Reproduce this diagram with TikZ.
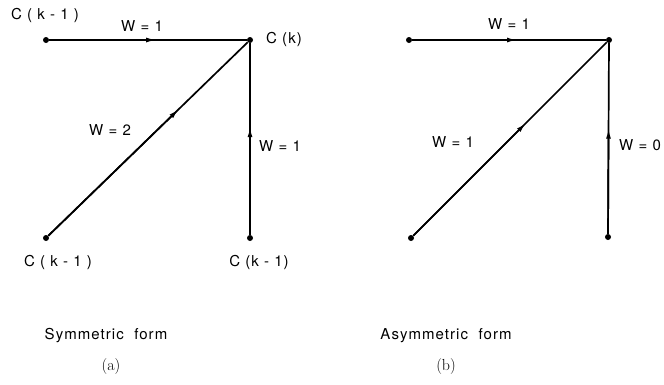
\documentclass[tikz,border=0pt]{standalone}
\usepackage{fontspec}
\setsansfont{TeX Gyre Heros}[LetterSpace=7]
\usetikzlibrary{calc,arrows.meta}
\begin{document}
\begin{tikzpicture}[x=1pt,y=-1pt,
  dot/.style={circle,fill=black,inner sep=0pt,minimum size=6pt},
  lbl/.style={font=\sffamily\fontsize{15}{17}\selectfont,inner sep=0pt},
  captxt/.style={font=\sffamily\fontsize{15}{17}\selectfont,inner sep=0pt},
  subtxt/.style={font=\rmfamily\fontsize{16}{18}\selectfont,inner sep=0pt},
  edge/.style={line width=1.7pt},
  tip/.style={line width=1.7pt,-{Latex[length=10pt,width=5pt]}}]
\useasboundingbox (0,0) rectangle (664,384);
% (a)
\node[dot] (a1) at (46,40) {};
\node[dot] (ak) at (250,40) {};
\node[dot] (a2) at (46,238) {};
\node[dot] (a3) at (250,238) {};
\draw[edge] (a1) -- (ak);
\draw[edge] (a2) -- (ak);
\draw[edge] (a3) -- (ak);
\draw[tip] (a1) -- ($(a1)!0.54!(ak)$);
\draw[tip] (a2) -- ($(a2)!0.65!(ak)$);
\draw[tip] (a3) -- ($(a3)!0.56!(ak)$);
\node[lbl] (ta1) at (45,15) {C ( k - 1 )};
\node[lbl] (tw1) at (142,26) {W = 1};
\node[lbl] (tk) at (284,39) {C (k)};
\node[lbl] (tw2) at (110,130) {W = 2};
\node[lbl] (tw3) at (280,146) {W = 1};
\node[lbl] (ta2) at (58,262) {C ( k - 1 )};
\node[lbl] (ta3) at (259,262) {C (k - 1)};
\node[captxt] (ca) at (106,336) {Symmetric\ \ form};
\node[subtxt] (la) at (111,366) {(a)};
% (b)
\node[dot] (b1) at (409,40) {};
\node[dot] (bk) at (609,40) {};
\node[dot] (b2) at (411,238) {};
\node[dot] (b3) at (608,237) {};
\draw[edge] (b1) -- (bk);
\draw[edge] (b2) -- (bk);
\draw[edge] (b3) -- (bk);
\draw[tip] (b1) -- ($(b1)!0.54!(bk)$);
\draw[tip] (b2) -- ($(b2)!0.58!(bk)$);
\draw[tip] (b3) -- ($(b3)!0.55!(bk)$);
\node[lbl] (uw1) at (509,24) {W = 1};
\node[lbl] (uw2) at (453,142) {W = 1};
\node[lbl] (uw3) at (640,145) {W = 0};
\node[captxt] (cb) at (446,336) {Asymmetric\ \ form};
\node[subtxt] (lb) at (446,366) {(b)};
\end{tikzpicture}
\end{document}
